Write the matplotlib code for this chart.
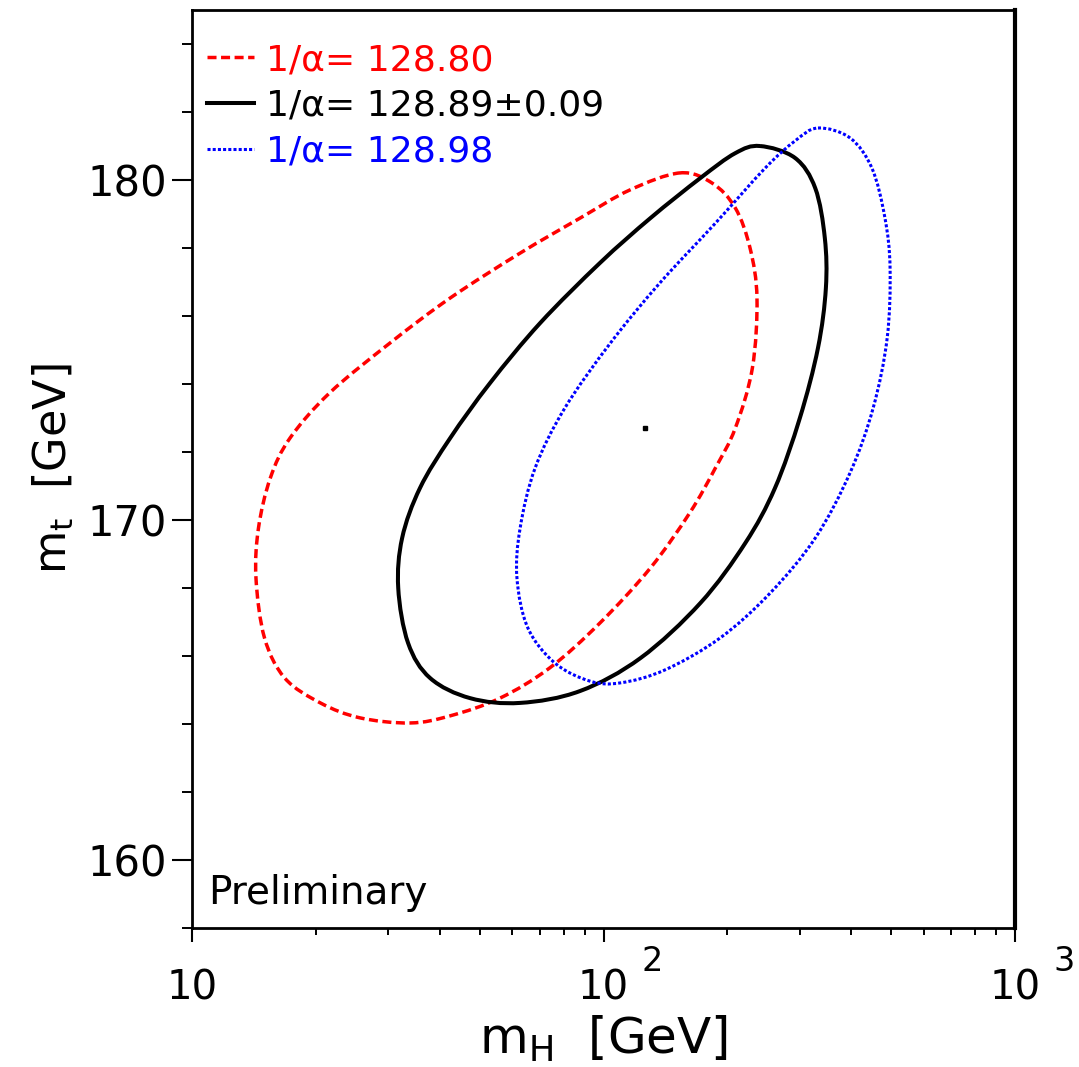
import numpy as np
import matplotlib
matplotlib.use("Agg")
import matplotlib.pyplot as plt
from matplotlib.path import Path
from matplotlib.patches import PathPatch
from matplotlib.lines import Line2D
from matplotlib.ticker import LogLocator, MultipleLocator, NullFormatter

plt.rcParams['font.family'] = ['DejaVu Sans']
plt.rcParams['mathtext.fontset'] = 'dejavusans'

# 68% CL contours in the (m_H, m_t) plane for three values of 1/alpha(M_Z)
labels = ["1/α= 128.80", "1/α= 128.89±0.09", "1/α= 128.98"]
colors = ["#ff0000", "#000000", "#0000ff"]

mh_red = [153.5, 183.6, 209, 227, 236, 230, 209, 187, 162, 130, 98, 74, 56, 42.4,
          33.9, 25.6, 20.5, 16.8, 15.0, 14.3, 14.5, 15.5, 17.3, 21.6, 30.3, 42.4,
          62.7, 87.7, 116]
mt_red = [180.21, 179.91, 179.18, 178.0, 176.53, 174.47, 172.7, 171.53, 170.21,
          168.59, 166.97, 165.65, 164.76, 164.24, 164.03, 164.18, 164.62, 165.35,
          166.53, 168.29, 169.76, 171.24, 172.41, 173.74, 175.21, 176.53, 177.85,
          178.88, 179.71]

mh_black = [240, 292, 327, 345, 347, 332, 300, 261, 221, 172, 123, 87.7, 62.7,
            47.4, 37.9, 33.5, 31.7, 32.4, 35.8, 42.4, 53.0, 70.1, 98, 130, 172, 209]
mt_black = [181.0, 180.65, 179.76, 178.29, 176.82, 175.06, 173.0, 170.94, 169.32,
            167.56, 165.94, 164.97, 164.62, 164.76, 165.35, 166.38, 168.0, 169.47,
            170.94, 172.41, 174.03, 175.79, 177.56, 178.88, 180.06, 180.79]

mh_blue = [332, 397, 449, 483, 497, 489, 452, 397, 327, 254, 192, 141, 110, 92.7,
           76.2, 65.5, 61.6, 62.7, 68.2, 80.5, 104, 137, 187, 247, 292]
mt_blue = [181.53, 181.24, 180.35, 178.88, 177.41, 175.35, 173.29, 171.38, 169.47,
           167.85, 166.53, 165.59, 165.21, 165.26, 165.79, 166.82, 168.29, 169.76,
           171.53, 173.29, 175.21, 176.97, 178.73, 180.35, 181.15]

best_fit_mh = 126
best_fit_mt = 172.7

x_ticks = [10, 100, 1000]
x_exponents = [None, "2", "3"]
y_ticks = [160, 170, 180]


def smooth_closed_path(xs, ys):
    """Closed cubic Bezier path through the points (Catmull-Rom tangents),
    built in log10(x) so it is smooth on the log axis."""
    p = np.column_stack([np.log10(xs), ys])
    n = len(p)
    verts = [p[0]]
    codes = [Path.MOVETO]
    for i in range(n):
        p0, p1, p2, p3 = p[i - 1], p[i], p[(i + 1) % n], p[(i + 2) % n]
        c1 = p1 + (p2 - p0) / 6.0
        c2 = p2 - (p3 - p1) / 6.0
        verts += [c1, c2, p2]
        codes += [Path.CURVE4] * 3
    verts = np.array(verts)
    verts[:, 0] = 10 ** verts[:, 0]
    return Path(verts, codes)


fig = plt.figure(figsize=(10.79, 10.67), dpi=100)
ax = fig.add_axes([0.178, 0.1303, 0.7627, 0.8603])

styles = [
    dict(lw=2.5, linestyle=(0, (2.6, 1.3))),
    dict(lw=2.9, linestyle='-'),
    dict(lw=2.2, linestyle=(0, (1.0, 0.7))),
]
contours = [(mh_red, mt_red), (mh_black, mt_black), (mh_blue, mt_blue)]
handles = []
for (xs, ys), c, st, lab in zip(contours, colors, styles, labels):
    ax.add_patch(PathPatch(smooth_closed_path(xs, ys), fill=False, ec=c,
                           capstyle='butt', joinstyle='round', **st))
    handles.append(Line2D([], [], color=c, label=lab, **st))

ax.plot([best_fit_mh], [best_fit_mt], marker='s', ms=3, color='black', lw=0)

ax.set_xscale('log')
ax.set_xlim(10, 1000)
ax.set_ylim(158, 185)

ax.set_xticks(x_ticks)
ax.set_xticklabels(["10"] * len(x_ticks), fontsize=29)
ax.xaxis.set_minor_locator(LogLocator(base=10, subs=np.arange(2, 10)))
ax.xaxis.set_minor_formatter(NullFormatter())
ax.set_yticks(y_ticks)
ax.set_yticklabels([str(v) for v in y_ticks], fontsize=30)
ax.yaxis.set_minor_locator(MultipleLocator(2))

ax.tick_params(axis='x', which='major', direction='out', length=10, width=1.5, pad=19)
ax.tick_params(axis='x', which='minor', direction='out', length=5, width=1.4)
ax.tick_params(axis='y', which='major', direction='out', length=14.4, width=1.5, pad=3.5)
ax.tick_params(axis='y', which='minor', direction='out', length=7.2, width=1.4)

# powers of ten written as raised exponents next to the "10" tick labels
for xv, e in zip(x_ticks, x_exponents):
    if e is None:
        continue
    ax.annotate(e, xy=(xv, 0), xycoords=('data', 'axes fraction'),
                xytext=(38, -43), textcoords='offset pixels',
                fontsize=24, ha='left', va='baseline', annotation_clip=False)

for s in ax.spines.values():
    s.set_linewidth(2.0)
ax.spines['right'].set_linewidth(3.0)

ax.set_xlabel(r"m$_\mathregular{H}$  [GeV]", fontsize=36, labelpad=4)
ax.set_ylabel(r"m$_\mathregular{t}$  [GeV]", fontsize=32, labelpad=8)

leg = ax.legend(handles=handles, loc='upper left', frameon=False, fontsize=26,
                handlelength=1.3, handletextpad=0.33, labelspacing=0.33,
                borderaxespad=0.0, borderpad=0.0,
                bbox_to_anchor=(0.018, 0.964))
for txt, c in zip(leg.get_texts(), colors):
    txt.set_color(c)

ax.text(0.02, 0.017, "Preliminary", transform=ax.transAxes, fontsize=28,
        ha='left', va='bottom')

fig.savefig("out.png", dpi=100)
